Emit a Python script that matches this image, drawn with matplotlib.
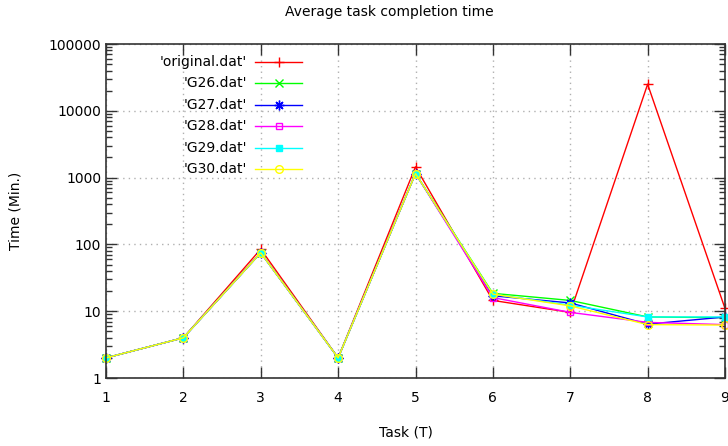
import matplotlib
matplotlib.use('Agg')
import matplotlib.pyplot as plt
import numpy as np

tasks = [1, 2, 3, 4, 5, 6, 7, 8, 9]
original = [2, 4, 85, 2, 1450, 14.5, 9.6, 25000, 11]
g26 = [2, 4, 75, 2, 1150, 18.5, 14.5, 8.2, 8.0]
g27 = [2, 4, 75, 2, 1150, 17.0, 13.3, 6.4, 8.2]
g28 = [2, 4, 75, 2, 1150, 16.0, 9.6, 6.8, 6.3]
g29 = [2, 4, 75, 2, 1150, 18.0, 12.3, 8.2, 8.2]
g30 = [2, 4, 75, 2, 1150, 18.0, 12.0, 6.3, 6.2]

labels = ["'original.dat'", "'G26.dat'", "'G27.dat'", "'G28.dat'", "'G29.dat'", "'G30.dat'"]
series = [original, g26, g27, g28, g29, g30]
colors = ['#ff0000', '#00ff00', '#0000ff', '#ff00ff', '#00ffff', '#ffff00']
markers = ['+', 'x', (8, 2, 0), 's', 's', 'o']
sizes = [7, 5.5, 7, 5, 5, 5.5]
filled = [True, True, True, False, True, False]

fig = plt.figure(figsize=(7.28, 4.46), dpi=100)
ax = fig.add_axes([106/728, 1-378/446, 619/728, 334/446])

for i in range(len(series)):
    mfc = colors[i] if filled[i] else 'none'
    ax.plot(tasks, series[i], color=colors[i], lw=1, marker=markers[i],
            ms=sizes[i], mfc=mfc, mec=colors[i], mew=1, clip_on=False)

ax.set_yscale('log')
ax.set_xlim(1, 9)
ax.set_ylim(1, 100000)
ax.set_xticks(tasks)
ax.set_yticks([1, 10, 100, 1000, 10000, 100000])
ax.set_yticklabels(['1', '10', '100', '1000', '10000', '100000'])
ax.yaxis.set_minor_locator(matplotlib.ticker.LogLocator(base=10, subs=np.arange(2, 10)))
ax.yaxis.set_minor_formatter(matplotlib.ticker.NullFormatter())
ax.tick_params(which='both', direction='in', top=True, right=True, labelsize=10, color='#333333')
ax.tick_params(which='major', length=8, width=1)
ax.tick_params(which='minor', length=4, width=1)
ax.tick_params(axis='x', pad=9)
ax.grid(True, which='major', linestyle=(0, (1, 3)), color='#b0b0b0', lw=1)
for s in ax.spines.values():
    s.set_linewidth(1.2)
    s.set_color('#333333')

# key, gnuplot style (text right aligned, sample on the right)
ys = [0.946, 0.883, 0.818, 0.753, 0.689, 0.626]
for i in range(len(labels)):
    ax.text(0.228, ys[i], labels[i], transform=ax.transAxes, ha='right', va='center', fontsize=10)
    ax.plot([0.241, 0.317], [ys[i], ys[i]], transform=ax.transAxes, color=colors[i], lw=1)
    mfc = colors[i] if filled[i] else 'none'
    ax.plot([0.279], [ys[i]], transform=ax.transAxes, color=colors[i], marker=markers[i],
            ms=sizes[i], mfc=mfc, mec=colors[i], mew=1)

fig.text(389/728, 1-12/446, 'Average task completion time', ha='center', va='center', fontsize=10)
fig.text(406/728, 1-433/446, 'Task (T)', ha='center', va='center', fontsize=10)
fig.text(16/728, 1-211/446, 'Time (Min.)', ha='center', va='center', rotation=90, fontsize=10)

fig.savefig('out.png', dpi=100)
